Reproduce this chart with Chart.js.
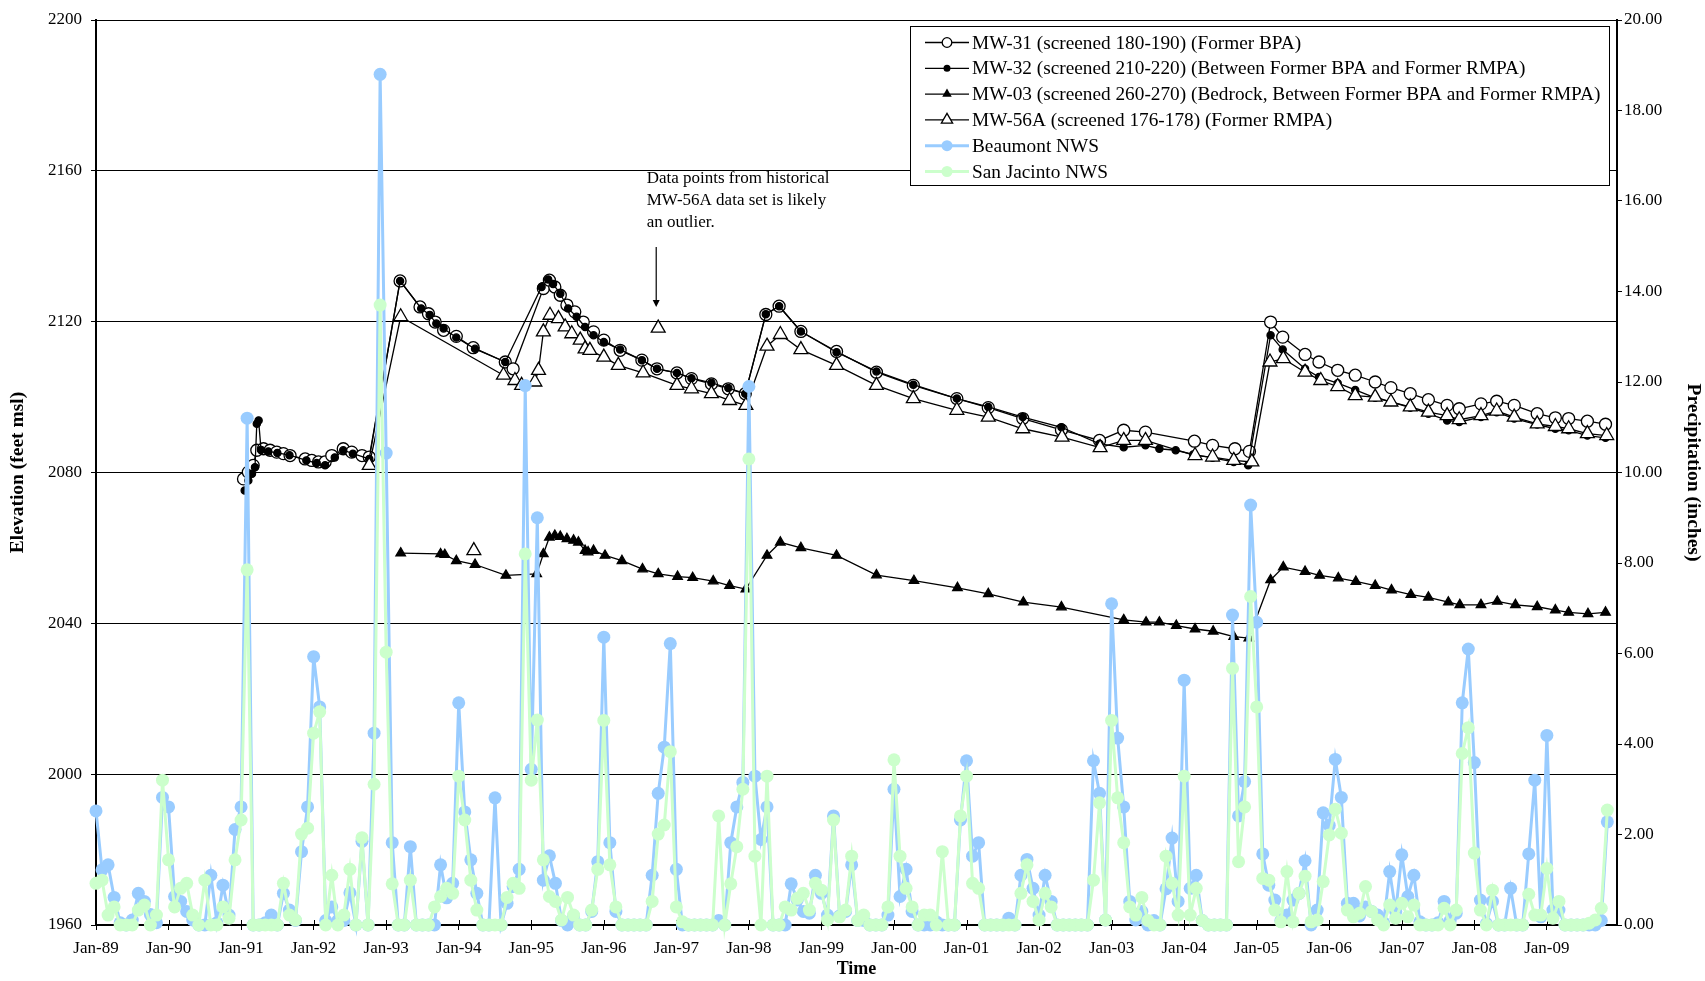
<!DOCTYPE html>
<html>
<head>
<meta charset="utf-8">
<title>Groundwater elevation and precipitation</title>
<script src="https://cdn.jsdelivr.net/npm/chart.js@4.4.1/dist/chart.umd.min.js"></script>
<style>
  html, body { margin: 0; padding: 0; background: #fff; }
  #wrap { width: 1705px; height: 981px; }
</style>
</head>
<body>
<div id="wrap"><canvas id="wellChart" width="1705" height="981"></canvas></div>
<script>
// x values are months counted from Jan-89 (0 = Jan-89)
const xTickLabels = ['Jan-89', 'Jan-90', 'Jan-91', 'Jan-92', 'Jan-93', 'Jan-94', 'Jan-95',
  'Jan-96', 'Jan-97', 'Jan-98', 'Jan-99', 'Jan-00', 'Jan-01', 'Jan-02', 'Jan-03',
  'Jan-04', 'Jan-05', 'Jan-06', 'Jan-07', 'Jan-08', 'Jan-09'];

const mw31Months = [24.4, 25.2, 26.0, 26.6, 27.7, 28.8, 29.9, 31.0, 32.1, 34.6, 35.7, 36.8, 37.9, 39.0, 40.9,
  42.3, 44.0, 45.2, 50.3, 53.6, 55.0, 56.1, 57.5, 59.6, 62.4, 67.7, 69.0, 74.0, 75.0, 75.9, 76.8, 77.9, 79.2,
  80.6, 82.3, 84.0, 86.7, 90.3, 92.8, 96.1, 98.5, 101.8, 104.6, 107.4, 110.8, 113.0, 116.6, 122.5, 129.1,
  135.2, 142.4, 147.6, 153.3, 159.7, 166.0, 170.0, 173.6, 181.7, 184.7, 188.4, 190.8, 194.3, 196.3, 200.0,
  202.3, 205.4, 208.3, 211.6, 214.2, 217.4, 220.4, 223.5, 225.5, 229.1, 231.7, 234.6, 238.4, 241.4, 243.6,
  246.7, 249.7];
const mw31Elev = [2078.3, 2080.1, 2081.9, 2085.9, 2086.3, 2085.9, 2085.4, 2085.0, 2084.5, 2083.6, 2083.2,
  2082.8, 2082.8, 2084.5, 2086.3, 2085.4, 2084.5, 2084.1, 2130.8, 2123.9, 2122.1, 2119.9, 2117.7, 2116.1,
  2113.1, 2109.3, 2107.5, 2128.8, 2131.0, 2129.2, 2127.0, 2124.4, 2122.6, 2119.9, 2117.3, 2115.1, 2112.4,
  2109.8, 2107.5, 2106.4, 2104.9, 2103.5, 2102.2, 2100.9, 2121.9, 2124.1, 2117.4, 2112.1, 2106.6, 2103.1,
  2099.6, 2097.2, 2094.3, 2091.3, 2088.5, 2091.2, 2090.7, 2088.3, 2087.2, 2086.3, 2085.6, 2119.9, 2115.9,
  2111.3, 2109.3, 2107.1, 2105.8, 2104.0, 2102.5, 2100.9, 2099.3, 2097.8, 2096.9, 2098.2, 2098.9, 2097.8,
  2095.6, 2094.5, 2094.3, 2093.6, 2092.8];

const mw32Months = [24.6, 25.2, 25.8, 26.3, 26.6, 26.9, 27.3, 28.5, 30.0, 32.0, 34.8, 36.5, 37.9, 39.5, 40.9,
  42.5, 45.2, 50.3, 53.8, 55.2, 56.3, 57.5, 59.6, 62.7, 67.7, 73.7, 74.8, 75.6, 76.8, 78.1, 79.5, 80.9, 82.3,
  84.0, 86.7, 90.3, 92.8, 96.1, 98.5, 101.8, 104.6, 107.4, 110.8, 113.0, 116.6, 122.5, 129.1, 135.2, 142.4,
  147.6, 153.3, 159.7, 166.0, 170.0, 173.6, 175.9, 178.6, 181.5, 184.7, 188.2, 190.6, 194.3, 196.3, 200.0,
  202.3, 205.4, 208.3, 211.6, 214.2, 217.4, 220.4, 223.5, 225.5, 229.1, 231.7, 234.6, 238.4, 241.4, 243.6,
  246.7, 249.7];
const mw32Elev = [2075.2, 2077.9, 2079.7, 2081.4, 2092.9, 2093.8, 2086.0, 2085.6, 2085.2, 2084.6, 2083.2,
  2082.5, 2081.9, 2084.0, 2085.9, 2085.0, 2083.6, 2130.8, 2123.5, 2121.8, 2119.5, 2118.2, 2115.8, 2112.8,
  2109.3, 2129.2, 2131.2, 2130.0, 2127.4, 2123.5, 2121.3, 2118.6, 2116.4, 2114.6, 2112.6, 2109.8, 2107.5,
  2106.4, 2105.0, 2103.8, 2102.4, 2100.9, 2122.0, 2124.1, 2117.4, 2111.9, 2106.8, 2103.3, 2099.6, 2097.4,
  2094.7, 2092.0, 2087.6, 2086.7, 2087.2, 2086.3, 2085.9, 2084.8, 2083.9, 2082.8, 2081.9, 2116.4, 2112.6,
  2107.5, 2105.3, 2103.7, 2101.9, 2099.8, 2098.7, 2097.2, 2095.6, 2093.8, 2093.4, 2094.7, 2096.0, 2094.3,
  2092.7, 2091.6, 2091.2, 2089.8, 2089.2];

const mw03Months = [50.4, 57.0, 57.7, 59.6, 62.7, 67.8, 72.9, 74.0, 75.0, 75.9, 76.8, 77.9, 79.0, 79.8, 80.9,
  81.4, 82.3, 84.2, 87.0, 90.4, 93.0, 96.2, 98.7, 102.1, 104.8, 107.5, 111.0, 113.2, 116.6, 122.5, 129.1,
  135.3, 142.5, 147.6, 153.4, 159.7, 170.0, 173.7, 175.9, 178.7, 181.8, 184.8, 188.2, 190.7, 194.3, 196.4,
  200.0, 202.4, 205.5, 208.4, 211.6, 214.3, 217.5, 220.4, 223.7, 225.6, 229.1, 231.8, 234.8, 238.4, 241.4,
  243.6, 246.8, 249.7];
const mw03Elev = [2058.6, 2058.4, 2058.2, 2056.6, 2055.6, 2052.7, 2053.1, 2058.4, 2062.8, 2063.3, 2063.0,
  2062.4, 2062.0, 2061.5, 2059.3, 2058.9, 2059.3, 2058.0, 2056.6, 2054.4, 2053.1, 2052.4, 2052.1, 2051.2,
  2050.0, 2049.1, 2058.0, 2061.5, 2060.0, 2058.0, 2052.8, 2051.3, 2049.4, 2047.8, 2045.6, 2044.3, 2040.9,
  2040.3, 2040.3, 2039.4, 2038.5, 2037.9, 2036.5, 2036.1, 2051.5, 2054.9, 2053.7, 2052.7, 2052.0, 2051.1,
  2050.0, 2048.8, 2047.6, 2046.9, 2045.6, 2044.9, 2044.9, 2045.8, 2044.9, 2044.4, 2043.5, 2042.9, 2042.5,
  2042.9];

const mw56aMonths = [45.2, 50.4, 67.4, 69.3, 70.4, 72.6, 73.2, 74.0, 75.1, 76.5, 77.6, 78.7, 80.1, 80.9, 81.7,
  84.0, 86.4, 90.5, 96.1, 98.5, 101.8, 104.8, 107.5, 111.0, 113.2, 116.6, 122.5, 129.1, 135.2, 142.4, 147.6,
  153.3, 159.8, 166.1, 170.0, 173.6, 181.8, 184.7, 188.2, 191.2, 194.2, 196.4, 200.0, 202.6, 205.4, 208.3,
  211.6, 214.2, 217.4, 220.4, 223.5, 225.5, 229.1, 231.7, 234.6, 238.4, 241.4, 243.6, 246.7, 249.9];
const mw56aElev = [2081.9, 2121.3, 2105.8, 2104.4, 2103.1, 2104.0, 2107.1, 2117.3, 2121.7, 2120.8, 2118.6,
  2116.8, 2115.1, 2112.8, 2112.4, 2110.6, 2108.4, 2106.4, 2103.1, 2102.2, 2100.9, 2099.1, 2097.8, 2113.5,
  2116.6, 2112.6, 2108.4, 2103.1, 2099.6, 2096.5, 2094.7, 2091.6, 2089.4, 2086.6, 2088.5, 2088.5, 2084.5,
  2084.1, 2083.2, 2082.8, 2109.3, 2110.2, 2106.6, 2104.4, 2102.8, 2100.4, 2100.0, 2098.7, 2097.4, 2096.0,
  2095.1, 2094.0, 2095.1, 2096.3, 2094.7, 2092.9, 2092.2, 2091.6, 2090.3, 2089.8];

// historical MW-56A points (markers only)
const histMonths = [62.5, 93.0];
const histElev = [2059.3, 2118.3];

// monthly precipitation (inches), one value per month from Jan-89
const beaumont = [
  2.52, 1.22, 1.33, 0.61, 0.05, 0, 0.11, 0.70, 0.52, 0.23, 0.05, 2.82,
  2.61, 0.63, 0.52, 0.30, 0.11, 0, 0, 1.10, 0.05, 0.88, 0.22, 2.11,
  2.61, 11.2, 0, 0, 0.05, 0.22, 0, 0.70, 0.33, 0.10, 1.62, 2.61,
  5.93, 4.82, 0.10, 0.40, 0.10, 0.10, 0.71, 0, 1.85, 0, 4.24, 18.8,
  10.43, 1.82, 0, 0, 1.73, 0, 0, 0, 0, 1.33, 0.60, 0.92,
  4.91, 2.50, 1.44, 0.70, 0, 0, 2.81, 0, 0.48, 0.85, 1.23, 11.92,
  3.44, 9.0, 0.99, 1.53, 0.92, 0.10, 0, 0.20, 0, 0, 0.30, 1.40,
  6.36, 1.82, 0.30, 0, 0, 0, 0, 0, 1.10, 2.91, 3.93, 6.22,
  1.23, 0, 0, 0, 0, 0, 0, 0.10, 0, 1.82, 2.61, 3.15,
  11.9, 3.29, 1.89, 2.61, 0, 0, 0, 0.91, 0.55, 0.30, 0.26, 1.10,
  0.70, 0.22, 2.41, 0.20, 0.30, 1.33, 0.10, 0.10, 0, 0, 0, 0.22,
  3.00, 0.63, 1.23, 0.30, 0, 0, 0, 0.07, 0, 0, 0, 2.32,
  3.63, 1.52, 1.82, 0, 0, 0, 0, 0.15, 0, 1.10, 1.45, 0.81,
  0.22, 1.10, 0.52, 0, 0, 0, 0, 0, 0, 3.63, 2.91, 0.11,
  7.10, 4.13, 2.61, 0.52, 0.11, 0.30, 0, 0.10, 0, 0.80, 1.92, 0.52,
  5.41, 0.81, 1.10, 0.10, 0, 0, 0, 0, 6.85, 2.41, 3.17, 9.28,
  6.69, 1.57, 0.88, 0.55, 0.10, 0.22, 0.55, 0.70, 1.42, 0, 0.33, 2.48,
  2.20, 3.66, 2.82, 0.48, 0.48, 0.20, 0.40, 0.30, 0.22, 0.05, 1.18, 0.30,
  1.55, 0.63, 1.10, 0.07, 0, 0, 0.05, 0.52, 0.10, 0.26, 4.91, 6.10,
  3.59, 0.55, 0.03, 0.52, 0, 0, 0.81, 0, 0, 1.57, 3.20, 0.18,
  4.19, 0.33, 0.33, 0, 0, 0, 0, 0, 0, 0.10, 2.28];
const sanJacinto = [
  0.92, 0.99, 0.22, 0.40, 0, 0, 0, 0.33, 0.44, 0, 0.22, 3.20,
  1.44, 0.40, 0.81, 0.92, 0.22, 0, 0.99, 0, 0, 0.40, 0.15, 1.44,
  2.32, 7.85, 0, 0, 0, 0, 0, 0.92, 0.22, 0.11, 2.01, 2.14,
  4.24, 4.71, 0, 1.10, 0, 0.22, 1.23, 0, 1.93, 0, 3.11, 13.7,
  6.03, 0.91, 0, 0, 0.99, 0, 0, 0, 0.40, 0.63, 0.81, 0.70,
  3.29, 2.32, 0.99, 0.33, 0, 0, 0, 0, 0.61, 0.92, 0.81, 8.2,
  3.20, 4.53, 1.44, 0.63, 0.52, 0.11, 0.61, 0.22, 0, 0, 0.33, 1.23,
  4.52, 1.33, 0.40, 0, 0, 0, 0, 0, 0.52, 2.01, 2.21, 3.83,
  0.40, 0.07, 0, 0, 0, 0, 0, 2.41, 0, 0.91, 1.73, 3.00,
  10.3, 1.52, 0, 3.29, 0, 0, 0.40, 0.33, 0.59, 0.70, 0.33, 0.92,
  0.77, 0.11, 2.32, 0.18, 0.33, 1.52, 0.10, 0.22, 0, 0, 0, 0.40,
  3.65, 1.52, 0.81, 0.40, 0, 0.22, 0.22, 0, 1.62, 0, 0, 2.41,
  3.29, 0.92, 0.81, 0, 0, 0, 0, 0, 0, 0.70, 1.33, 0.52,
  0.11, 0.70, 0.40, 0, 0, 0, 0, 0, 0, 0.99, 2.70, 0.11,
  4.52, 2.81, 1.82, 0.40, 0.22, 0.61, 0.10, 0, 0, 1.52, 0.92, 0.22,
  3.29, 0.22, 0.81, 0.10, 0, 0, 0, 0, 5.67, 1.40, 2.61, 7.26,
  4.82, 1.03, 0.99, 0.33, 0.07, 1.18, 0.07, 0.70, 1.08, 0.07, 0.11, 0.96,
  1.99, 2.56, 2.03, 0.33, 0.18, 0.26, 0.85, 0.30, 0.11, 0, 0.44, 0.15,
  0.48, 0.18, 0.44, 0, 0, 0, 0, 0.37, 0, 0.33, 3.79, 4.36,
  1.59, 0.33, 0, 0.77, 0, 0, 0, 0, 0, 0.68, 0.22, 0.22,
  1.25, 0.15, 0.52, 0, 0, 0, 0, 0.04, 0.11, 0.37, 2.54];

const noteLines = ['Data points from historical', 'MW-56A data set is likely', 'an outlier.'];

const serif = "'Liberation Serif', 'Times New Roman', serif";
const blue = '#99CCFF';
const green = '#CCFFCC';

const toPoints = (xs, ys) => xs.map((x, i) => ({ x: x, y: ys[i] }));
const monthly = ys => ys.map((y, i) => ({ x: i, y: y }));

function drawMarker(ctx, m, x, y, r) {
  ctx.beginPath();
  if (m.shape === 'triangle') {
    ctx.moveTo(x, y - r);
    ctx.lineTo(x + r * 0.866, y + r / 2);
    ctx.lineTo(x - r * 0.866, y + r / 2);
    ctx.closePath();
  } else {
    ctx.arc(x, y, r, 0, Math.PI * 2);
  }
  ctx.fillStyle = m.fill;
  ctx.fill();
  if (m.stroke) {
    ctx.lineWidth = 1.3;
    ctx.strokeStyle = m.stroke;
    ctx.stroke();
  }
}

const legendItems = [
  { text: 'MW-31 (screened 180-190) (Former BPA)', line: '#000', lw: 1.3, shape: 'circle', fill: '#fff', stroke: '#000', r: 4.8 },
  { text: 'MW-32 (screened 210-220) (Between Former BPA and Former RMPA)', line: '#000', lw: 1.3, shape: 'circle', fill: '#000', r: 3.5 },
  { text: 'MW-03 (screened 260-270) (Bedrock, Between Former BPA and Former RMPA)', line: '#000', lw: 1.3, shape: 'triangle', fill: '#000', r: 5.5 },
  { text: 'MW-56A (screened 176-178) (Former RMPA)', line: '#000', lw: 1.3, shape: 'triangle', fill: '#fff', stroke: '#000', r: 6.5 },
  { text: 'Beaumont NWS', line: blue, lw: 3, shape: 'circle', fill: blue, r: 5.5 },
  { text: 'San Jacinto NWS', line: green, lw: 3, shape: 'circle', fill: green, r: 5.5 }
];

const legendBox = {
  id: 'legendBox',
  afterDraw(chart) {
    const ctx = chart.ctx;
    const a = chart.chartArea;
    const right = a.right - 8, top = a.top + 6, left = 910, bottom = top + 159;
    ctx.save();
    ctx.fillStyle = '#fff';
    ctx.fillRect(left, top, right - left, bottom - top);
    ctx.strokeStyle = '#000';
    ctx.lineWidth = 1;
    ctx.strokeRect(left + 0.5, top + 0.5, right - left, bottom - top);
    ctx.font = '19.3px ' + serif;
    ctx.textBaseline = 'middle';
    legendItems.forEach((it, i) => {
      const y = top + 16.5 + i * 25.8;
      ctx.beginPath();
      ctx.strokeStyle = it.line;
      ctx.lineWidth = it.lw;
      ctx.moveTo(left + 15, y);
      ctx.lineTo(left + 59, y);
      ctx.stroke();
      drawMarker(ctx, it, left + 37, y, it.r);
      ctx.fillStyle = '#000';
      ctx.fillText(it.text, left + 62, y + 1);
    });
    ctx.restore();
  }
};

const outlierNote = {
  id: 'outlierNote',
  afterDatasetsDraw(chart) {
    const ctx = chart.ctx;
    const px = chart.scales.x.getPixelForValue(histMonths[1]) - 2;
    const tip = chart.scales.y.getPixelForValue(histElev[1]) - 21;
    const start = tip - 60;
    ctx.save();
    ctx.strokeStyle = '#000';
    ctx.fillStyle = '#000';
    ctx.lineWidth = 1.2;
    ctx.beginPath();
    ctx.moveTo(px, start);
    ctx.lineTo(px, tip - 5);
    ctx.stroke();
    ctx.beginPath();
    ctx.moveTo(px - 3.5, tip - 7);
    ctx.lineTo(px + 3.5, tip - 7);
    ctx.lineTo(px, tip);
    ctx.closePath();
    ctx.fill();
    ctx.font = '17px ' + serif;
    ctx.textBaseline = 'middle';
    noteLines.forEach((t, i) => ctx.fillText(t, px - 9.5, start - 68.5 + i * 22));
    ctx.restore();
  }
};

// x axis tick marks cross the axis line
const crossTicks = {
  id: 'crossTicks',
  beforeDatasetsDraw(chart) {
    const xs = chart.scales.x;
    const b = chart.chartArea.bottom;
    const ctx = chart.ctx;
    ctx.save();
    ctx.strokeStyle = '#000';
    ctx.lineWidth = 1;
    xs.ticks.forEach(t => {
      const px = Math.round(xs.getPixelForValue(t.value)) + 0.5;
      ctx.beginPath();
      ctx.moveTo(px, b);
      ctx.lineTo(px, b - 5);
      ctx.stroke();
    });
    ctx.restore();
  }
};

Chart.defaults.font.family = serif;
Chart.defaults.color = '#000';

const well = (label, xs, ys, style, order) => Object.assign({
  label: label,
  data: toPoints(xs, ys),
  yAxisID: 'y',
  borderColor: '#000',
  borderWidth: 1.3,
  pointBorderColor: '#000',
  pointBorderWidth: 1.3,
  order: order,
  clip: false
}, style);

const rain = (label, ys, color, order) => ({
  label: label,
  data: monthly(ys),
  yAxisID: 'y1',
  borderColor: color,
  backgroundColor: color,
  borderWidth: 3,
  pointRadius: 6.5,
  pointBorderWidth: 0,
  pointBackgroundColor: color,
  order: order,
  clip: false
});

new Chart(document.getElementById('wellChart'), {
  type: 'line',
  data: {
    datasets: [
      rain('San Jacinto NWS', sanJacinto, green, 0),
      rain('Beaumont NWS', beaumont, blue, 1),
      well('MW-56A historical', histMonths, histElev,
        { showLine: false, pointStyle: 'triangle', pointRadius: 8, pointBackgroundColor: '#fff' }, 2),
      well('MW-56A (screened 176-178) (Former RMPA)', mw56aMonths, mw56aElev,
        { pointStyle: 'triangle', pointRadius: 8, pointBackgroundColor: '#fff' }, 3),
      well('MW-03 (screened 260-270) (Bedrock, Between Former BPA and Former RMPA)', mw03Months, mw03Elev,
        { pointStyle: 'triangle', pointRadius: 5.5, pointBackgroundColor: '#000' }, 4),
      well('MW-32 (screened 210-220) (Between Former BPA and Former RMPA)', mw32Months, mw32Elev,
        { pointStyle: 'circle', pointRadius: 3.6, pointBackgroundColor: '#000' }, 5),
      well('MW-31 (screened 180-190) (Former BPA)', mw31Months, mw31Elev,
        { pointStyle: 'circle', pointRadius: 6, pointBackgroundColor: '#fff' }, 6)
    ]
  },
  options: {
    responsive: false,
    animation: false,
    devicePixelRatio: 1,
    layout: { padding: { top: 20, left: 0, right: 0, bottom: 0 } },
    elements: { line: { tension: 0 } },
    plugins: {
      legend: { display: false },
      tooltip: { enabled: false }
    },
    scales: {
      x: {
        type: 'linear',
        min: 0,
        max: 251.6,
        afterBuildTicks: axis => { axis.ticks = xTickLabels.map((_, i) => ({ value: i * 12 })); },
        afterFit: axis => { axis.height = 56; },
        ticks: {
          callback: v => xTickLabels[Math.round(v / 12)],
          font: { size: 17 },
          maxRotation: 0,
          autoSkip: false,
          padding: 8
        },
        grid: { drawOnChartArea: false, drawTicks: true, tickLength: 5, color: '#000' },
        border: { color: '#000', width: 2 },
        title: { display: true, text: 'Time', font: { size: 18, weight: 'bold' }, padding: { top: 0, bottom: 1 } }
      },
      y: {
        position: 'left',
        min: 1960,
        max: 2200,
        afterFit: axis => { axis.width = 96; },
        ticks: { stepSize: 40, callback: v => String(v), font: { size: 17 }, padding: 9 },
        grid: { color: '#000', lineWidth: 1, tickLength: 5 },
        border: { color: '#000', width: 2 },
        title: { display: true, text: 'Elevation (feet msl)', font: { size: 19.5, weight: 'bold' }, padding: { top: 6, bottom: 0 } }
      },
      y1: {
        position: 'right',
        min: 0,
        max: 20,
        afterFit: axis => { axis.width = 88; },
        ticks: { stepSize: 2, callback: v => v.toFixed(2), font: { size: 17 }, padding: 2 },
        grid: { drawOnChartArea: false, color: '#000', tickLength: 5 },
        border: { color: '#000', width: 2 },
        title: { display: true, text: 'Precipitation (inches)', font: { size: 19.5, weight: 'bold' }, padding: { top: 0, bottom: 0 } }
      }
    }
  },
  plugins: [crossTicks, outlierNote, legendBox]
});
</script>
</body>
</html>
